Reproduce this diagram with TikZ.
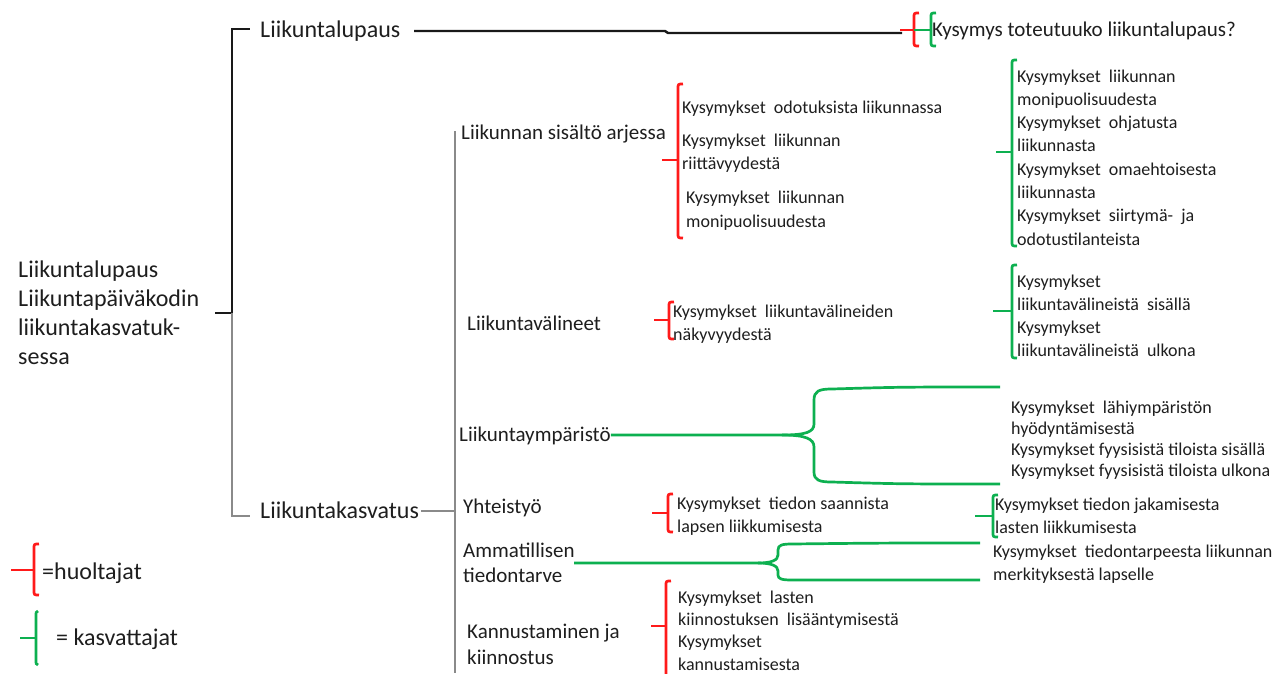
\documentclass[tikz,border=0pt]{standalone}
\usepackage{fontspec}
\setmainfont{Carlito}
\definecolor{hred}{HTML}{FF1A1A}
\definecolor{kgreen}{HTML}{0DB050}
\definecolor{txt}{HTML}{1E1E1E}
\definecolor{tgray}{HTML}{8A8A8A}
\newcommand\wsp{\hspace{0.45em}}
\newcommand\brkt[6]{%
  \draw[#1] ({#2+5},#3) .. controls (#2,#3) .. (#2,{#3+5}) -- (#2,{#4-5}) .. controls (#2,#4) .. ({#2+5},#4);
  \draw[#1] (#6,#5) -- (#2,#5);}
\tikzset{
  big/.style={anchor=base west, inner sep=0, text=txt, align=left, font=\fontsize{24}{28.7}\selectfont},
  mid/.style={anchor=base west, inner sep=0, text=txt, align=left, font=\fontsize{21}{25.5}\selectfont},
  small/.style={anchor=base west, inner sep=0, text=txt, align=left, font=\fontsize{18}{23.3}\selectfont},
  redl/.style={draw=hred, line width=2.7pt},
  grnl/.style={draw=kgreen, line width=2.7pt},
  blk/.style={draw=black!90, line width=2.8pt},
  gry/.style={draw=tgray, line width=1.2pt},
  grncon/.style={draw=kgreen, line width=2.7pt},
}
\begin{document}
\begin{tikzpicture}[x=1pt,y=-1pt]
\useasboundingbox[fill=white] (0,0) rectangle (1286,673);

% --- top-level nodes (multi-line nodes: base = last line)
\node[big] (root) at (18,364) {Liikuntalupaus\\Liikuntapäiväkodin\\liikuntakasvatuk-\\sessa};
\node[big] (lp) at (260,37) {Liikuntalupaus};
\node[big] (lk) at (260,518) {Liikuntakasvatus};
\node[mid] (q0) at (932,36) {Kysymys toteutuuko liikuntalupaus?};

% --- black/grey tree
\coordinate (rj) at (232,313);
\coordinate (rt) at (232,29);
\coordinate (rb) at (232,516);
\draw[blk] (215,313) -- (rj) -- (rt) -- (250,29);
\draw[gry] (rj) -- (rb) -- (250,516);
\draw[blk, line width=2.4pt] (414,31) -- (665,31) -- (668,33) -- (902,33);

% --- level 2
\node[mid] (sis) at (461,139) {Liikunnan sisältö arjessa};
\node[mid] (val) at (467,330) {Liikuntavälineet};
\node[mid] (ymp) at (459,441) {Liikuntaympäristö};
\node[mid] (yht) at (463,513) {Yhteistyö};
\node[mid] (amm) at (463,582.5) {Ammatillisen\\tiedontarve};
\node[mid] (kan) at (467,664) {Kannustaminen ja\\kiinnostus};
\coordinate (gtop) at (455,131);
\coordinate (gbot) at (455,673);
\coordinate (gj) at (455,511);
\draw[gry] (gtop) -- (gbot);
\draw[gry] (421,511) -- (gj);

% --- top question brackets
\brkt{redl}{914}{13}{46}{30}{900}
\brkt{grnl}{931}{13}{46}{30}{914}

% --- Liikunnan sisalto arjessa
\brkt{redl}{678}{84}{238}{160}{662}
\node[small] (q1) at (682,113) {Kysymykset\wsp odotuksista liikunnassa};
\node[small] (q2) at (682,169.3) {Kysymykset\wsp liikunnan\\riittävyydestä};
\node[small, font=\fontsize{18}{24}\selectfont] (q3) at (686,227) {Kysymykset\wsp liikunnan\\monipuolisuudesta};
\brkt{grnl}{1012}{60}{246}{152}{996}
\node[small] (qa) at (1017,245.1) {Kysymykset\wsp liikunnan\\monipuolisuudesta\\Kysymykset\wsp ohjatusta\\liikunnasta\\Kysymykset\wsp omaehtoisesta\\liikunnasta\\Kysymykset\wsp siirtymä-\wsp ja\\odotustilanteista};

% --- Liikuntavalineet
\brkt{redl}{669}{302}{339}{320}{654}
\node[small] (q4) at (673,340.3) {Kysymykset\wsp liikuntavälineiden\\näkyvyydestä};
\brkt{grnl}{1012}{265}{358}{311}{993}
\node[small] (qb) at (1017,356.9) {Kysymykset\\liikuntavälineistä\wsp sisällä\\Kysymykset\\liikuntavälineistä\wsp ulkona};

% --- Liikuntaymparisto
\node[small, font=\fontsize{18}{21.3}\selectfont] (qc) at (1011,476.9) {Kysymykset\wsp lähiympäristön\\hyödyntämisestä\\Kysymykset fyysisistä tiloista sisällä\\Kysymykset fyysisistä tiloista ulkona};
\coordinate (ysplit) at (782,435);
\draw[grncon] (ymp.base east) ++(0,-6) -- (ysplit)
  .. controls (806,435) and (814,432) .. (814,424) -- (814,400)
  .. controls (814,391) and (819,389) .. (832,389) .. controls (900,387) .. (1000,387);
\draw[grncon] (ysplit)
  .. controls (806,435) and (814,439) .. (814,447) -- (814,472)
  .. controls (814,480) and (819,482) .. (832,482) .. controls (900,484) .. (1000,484);

% --- Yhteistyo
\brkt{redl}{668}{494}{532}{513}{652}
\node[small] (q5) at (677,532.3) {Kysymykset\wsp tiedon saannista\\lapsen liikkumisesta};
\brkt{grnl}{993}{495}{537}{516}{975}
\node[small] (qd) at (995,533.3) {Kysymykset tiedon jakamisesta\\lasten liikkumisesta};

% --- Ammatillisen tiedontarve
\coordinate (astart) at (574,563);
\coordinate (asplit) at (758,563);
\node[small] (qe) at (993,580.3) {Kysymykset\wsp tiedontarpeesta liikunnan\\merkityksestä lapselle};
\draw[grncon] (astart) -- (asplit)
  .. controls (772,563) and (778,560) .. (778,555) -- (778,550)
  .. controls (778,545) and (782,544) .. (792,544) .. controls (880,543) .. (980,543);
\draw[grncon] (asplit)
  .. controls (772,563) and (778,566) .. (778,571) -- (778,575)
  .. controls (778,579) and (782,580) .. (792,580) -- (980,580);

% --- Kannustaminen ja kiinnostus
\brkt{redl}{666}{581}{690}{626}{651}
\node[small, font=\fontsize{18}{22.4}\selectfont] (q6) at (678,670.2) {Kysymykset\wsp lasten\\kiinnostuksen\wsp lisääntymisestä\\Kysymykset\\kannustamisesta};

% --- legend
\brkt{redl}{34}{544}{595}{570}{11}
\node[big] (leg1) at (42,579) {=huoltajat};
\draw[grnl] (38,611) .. controls (36,612) .. (36,616) -- (36,660) .. controls (36,664) .. (38,665);
\draw[grnl] (20,638) -- (36,638);
\node[big] (leg2) at (56,645) {= kasvattajat};
\end{tikzpicture}
\end{document}
